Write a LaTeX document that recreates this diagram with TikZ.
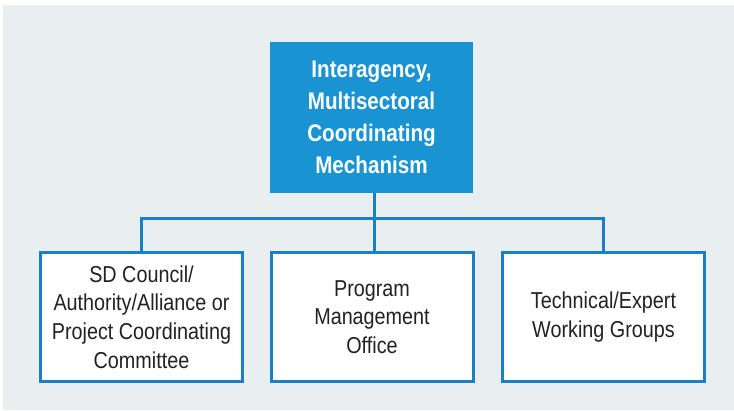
\documentclass[tikz,border=0pt]{standalone}
\usepackage{fontspec}
\setmainfont{Liberation Sans}[FakeStretch=0.86]
\definecolor{bgc}{HTML}{E9EEF1}
\definecolor{topblue}{HTML}{1A93D3}
\definecolor{lineblue}{HTML}{1A80C6}
\definecolor{txt}{HTML}{222222}
\begin{document}
\begin{tikzpicture}[x=1pt,y=-1pt,
  topbox/.style={fill=topblue,draw=none,minimum width=203pt,minimum height=151pt,
    text=white,align=center,font=\fontsize{24}{32}\selectfont\bfseries,inner sep=0pt},
  subbox/.style={fill=white,draw=lineblue,line width=3pt,minimum width=202pt,minimum height=129pt,
    text=txt,align=center,font=\fontsize{23}{28.7}\selectfont,inner sep=0pt},
  conn/.style={draw=lineblue,line width=3pt}]
\useasboundingbox (0,0) rectangle (734,410);
\fill[white] (0,0) rectangle (734,410);
\fill[bgc] (3,5) rectangle (734,410);
\node[topbox] (top) at (371.5,117.5) {Interagency,\\Multisectoral\\Coordinating\\Mechanism};
\node[subbox] (b1) at (141.5,317) {SD Council/\\Authority/Alliance or\\Project Coordinating\\Committee};
\node[subbox] (b2) at (372,317) {Program\\Management\\Office};
\node[subbox] (b3) at (603.5,317) {Technical/Expert\\Working Groups};
\coordinate (j) at (374,218);
\draw[conn] (top.south -| j) -- (j);
\draw[conn] (b1.north) |- (j);
\draw[conn] (b3.north) |- (j);
\draw[conn] (j) -- (j |- b2.north);
\end{tikzpicture}
\end{document}
